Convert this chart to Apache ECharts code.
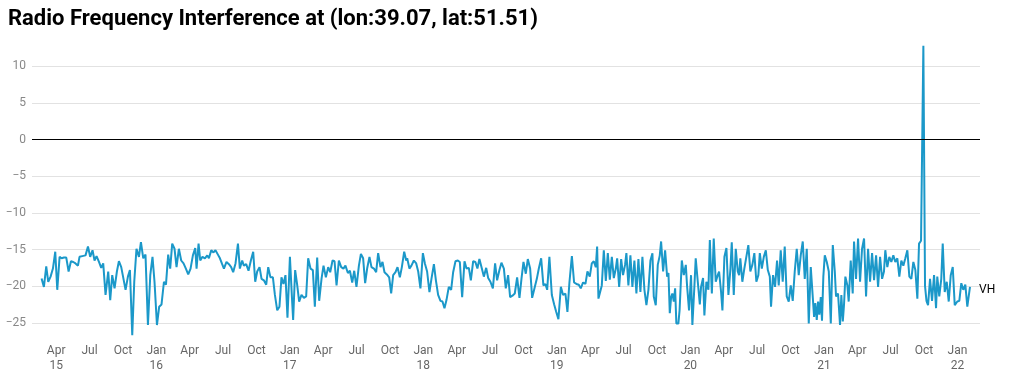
<!DOCTYPE html>
<html>
<head>
<meta charset="utf-8">
<script src="https://cdn.jsdelivr.net/npm/echarts@6/dist/echarts.min.js"></script>
<style>
html,body{margin:0;padding:0;background:#fff;}
#chart{width:1012px;height:379px;}
</style>
</head>
<body>
<div id="chart"></div>
<script>
const TITLE = 'Radio Frequency Interference at (lon:39.07, lat:51.51)';
const SERIES_NAME = 'VH';
// acquisition dates, expressed as months since 1 Jan 2015
const monthsSinceJan2015 = [
1.69,1.90,2.11,2.29,2.50,2.71,2.92,3.10,3.31,3.49,3.70,3.91,4.12,4.33,4.54,4.74,4.96,5.10,5.35,5.64,
5.86,6.06,6.27,6.45,6.63,6.85,7.05,7.23,7.44,7.68,7.86,8.04,8.25,8.46,8.64,8.85,9.00,9.24,9.45,9.63,
9.84,10.02,10.22,10.44,10.62,10.83,11.03,11.25,11.46,11.66,11.84,12.06,12.26,12.47,12.69,12.87,13.07,13.25,13.43,13.64,
13.82,14.03,14.24,14.45,14.66,14.87,15.08,15.29,15.50,15.62,15.80,15.95,16.15,16.37,16.58,16.73,16.94,17.14,17.32,17.54,
17.72,17.92,
18.08,18.31,18.53,18.73,18.91,19.12,19.34,19.51,19.72,19.87,20.08,20.29,20.50,20.71,20.89,21.07,21.28,21.46,21.67,21.88,
22.06,22.26,22.48,22.66,22.87,23.07,23.25,23.43,23.61,23.79,24.01,24.19,24.30,24.48,24.66,24.84,25.05,25.27,25.47,25.65,
25.86,26.07,26.25,26.46,26.64,26.85,27.03,27.24,27.45,27.63,27.84,28.02,28.20,28.41,28.62,28.82,29.00,29.22,29.40,29.61,
29.79,29.99,30.21,30.39,30.59,30.77,30.95,31.16,31.34,31.56,31.76,31.94,32.15,32.33,32.51,32.72,32.93,33.11,33.29,33.50,
33.68,33.89,34.07,34.28,34.46,
34.55,34.75,34.93,35.15,35.36,35.54,35.74,35.96,36.14,36.34,36.55,36.73,36.95,37.13,37.33,37.54,37.72,37.90,38.08,38.29,
38.50,38.68,38.89,39.10,39.28,39.49,39.70,39.88,40.09,40.27,40.48,40.68,40.86,41.04,41.26,41.44,41.65,41.83,42.03,42.25,
42.45,42.63,42.84,43.02,43.24,43.41,43.62,43.80,44.01,44.22,44.43,44.64,44.82,45.00,45.21,45.39,45.60,45.78,45.99,46.20,
46.38,46.59,46.79,46.97,47.13,47.33,47.55,47.76,47.94,48.14,48.36,48.56,48.77,48.95,49.13,49.35,49.55,49.76,49.97,50.15,
50.36,50.57,50.75,
50.96,51.14,51.32,51.50,51.62,51.74,51.86,52.04,52.22,52.40,52.58,52.76,52.94,53.12,53.30,53.42,53.60,53.78,53.95,54.13,
54.25,54.43,54.61,54.79,54.97,55.15,55.33,55.51,55.69,55.87,56.05,56.23,56.41,56.59,56.71,56.89,57.07,57.25,57.37,57.55,
57.73,57.91,58.03,58.15,58.27,58.38,58.51,58.63,58.74,58.92,59.03,59.23,59.41,59.59,59.70,59.88,60.06,60.18,60.36,60.48,
60.66,60.85,60.96,61.14,61.26,61.44,61.62,61.75,61.93,62.10,62.28,62.46,62.58,62.76,62.88,63.06,63.24,63.42,63.60,63.72,
63.90,64.08,64.26,64.38,64.49,64.67,64.85,65.03,65.21,65.39,65.57,65.75,65.93,66.11,66.24,66.42,66.60,66.78,66.96,67.14,
67.25,67.43,67.61,
67.79,67.94,68.12,68.30,68.48,68.66,68.84,69.02,69.20,69.38,69.56,69.74,69.92,70.10,70.28,70.46,70.64,70.82,70.94,71.12,
71.23,71.36,71.48,71.59,71.72,71.83,71.95,72.08,72.26,72.44,72.62,72.80,72.98,73.09,73.27,73.45,73.57,73.70,73.81,73.93,
74.11,74.23,74.41,74.59,74.71,74.89,75.07,75.25,75.43,75.61,75.79,75.97,76.15,76.33,76.51,76.69,76.87,77.05,77.23,77.40,
77.52,77.70,77.88,78.06,78.24,78.42,78.60,78.78,78.96,79.14,79.32,79.50,79.68,79.86,80.04,80.22,80.40,80.55,80.73,80.94,
81.09,81.22,81.36,81.54,81.72,81.90,82.08,82.19,82.37,82.55,82.68,82.86,83.04,83.22,83.40,83.58,83.76,83.99,84.17,84.35,
84.53,84.71,84.89,85.13
];
// VH values (dB)
const vhValues = [
-18.95,-20.1,-17.3,-19.4,-18.7,-17.6,-15.3,-20.5,-16,-16.2,-16.1,-16.1,-18,-16.6,-16.7,-16.9,-17.2,-16,-15.9,-15.8,
-14.6,-16,-15.1,-16.5,-15.9,-16.7,-17.5,-16.9,-21.2,-18,-21.9,-18.5,-20.3,-18,-16.6,-17.4,-17.2,-20.5,-18.7,-17.8,
-26.7,-19.4,-14.9,-16,-14,-16.2,-15.7,-25.3,-18.5,-16,-19.4,-25.3,-22.8,-22.5,-19.4,-19.8,-15.7,-17.6,-14.2,-14.9,
-17.4,-14.9,-16.5,-16.9,-17.6,-18.4,-17.6,-15.8,-14.8,-17.6,-14.2,-16.5,-16,-16.2,-15.8,-16.2,-15.1,-15.4,-15.1,-15.7,
-16.2,-17,
-17.6,-16.7,-17,-17.4,-18.1,-16.9,-14.2,-17.6,-16.5,-17.2,-17,-17.9,-16.5,-15.3,-19.4,-18,-17.4,-19,-19.2,-19.8,
-17.4,-18.8,-18.8,-21.2,-23.3,-22.8,-18.8,-19.7,-18.5,-24.3,-16,-21.5,-24.6,-17.8,-19.8,-22.1,-21.2,-21.6,-21.4,-16.2,
-17.6,-17.8,-22.8,-16.1,-22,-19,-17.2,-18.8,-17.4,-18.1,-16.5,-16.6,-19.9,-16.5,-17.4,-17.6,-17.2,-18.2,-17.9,-19.5,
-17.9,-20.1,-17.2,-15.6,-16.2,-19.6,-17.6,-16,-17.4,-17.6,-18.1,-15.5,-17.4,-16.7,-18.1,-18.4,-18.8,-21,-18.5,-18.1,
-17.4,-18.8,-17.4,-15.3,-16.5,
-16.2,-17.6,-17.2,-16.5,-16.9,-18,-20.3,-15.5,-16.9,-18,-20.8,-19,-17,-19.2,-21.2,-22,-22.1,-23,-21.9,-20.1,
-20.5,-18.1,-16.6,-16.5,-16.7,-21.5,-16.6,-17.6,-17.5,-19.2,-16.6,-16.7,-17.6,-16.3,-17.6,-18.7,-17.5,-18.9,-19.4,-20.3,
-16.9,-19.2,-17.8,-16.8,-17.6,-20.3,-18.5,-21.5,-21.3,-21,-18.8,-21.6,-19,-16.7,-18.3,-16.3,-17.6,-21.6,-20.3,-19,
-17.6,-16.2,-19.9,-19.7,-20.5,-16,-21.2,-22.5,-23.5,-24.5,-20.1,-21.2,-21,-23.5,-19.5,-15.9,-19.5,-19.7,-19.8,-20.3,
-19.5,-19.7,-18,
-18.7,-16.9,-16.6,-17.4,-14.6,-21.7,-21.9,-19.9,-15.1,-19.3,-15.5,-19.1,-16,-18.9,-17.6,-16.2,-20.1,-16.3,-18.5,-17.1,
-15.5,-19.9,-15.8,-20.1,-16.5,-21,-16.3,-20.8,-16,-20.5,-22.6,-20.5,-16.5,-15.5,-21.4,-22.6,-17.1,-15.8,-13.9,-18,
-15.1,-18.7,-18.2,-23.7,-21.5,-21,-22.1,-20.3,-25.1,-25.1,-23.3,-16.5,-18.5,-17.1,-19.9,-23.3,-18.5,-25.3,-20.1,-16.2,
-19.3,-22.5,-20.1,-18.9,-24,-19.4,-20.5,-13.7,-21,-13.5,-19.4,-18.5,-18,-20.8,-23.3,-16,-14.8,-21.2,-17.6,-14,
-21.2,-14.9,-18,-18.5,-16.2,-19.4,-17.6,-16,-14.4,-18,-17.1,-15.5,-19.4,-18.5,-15.5,-17.6,-16,-15.1,-17.8,-18.7,
-22.8,-18.5,-20.1,
-16.5,-19.9,-15.1,-19.4,-14.6,-21.4,-22.1,-19.9,-22,-18,-14.9,-18.5,-15.8,-13.9,-19,-14.9,-25.1,-17.4,-17.4,-24.2,
-22.3,-24.6,-22.1,-23.9,-21.5,-24.7,-18.7,-15.8,-16.7,-18,-25.1,-14.4,-18,-21.4,-21,-25.3,-21.2,-24.8,-22.5,-18.7,
-19.9,-22.1,-16.5,-21,-13.9,-19,-13.5,-19.4,-14.9,-13.5,-21.4,-14.9,-19.4,-15.5,-19.2,-15.8,-20.1,-16,-19,-18,
-15.1,-17.4,-16,-16.7,-15.8,-16.7,-16.2,-18.7,-16.5,-17.2,-16.2,-15.1,-18.7,-19,-16.7,-17.8,-21.7,-14.2,-13.8,12.8,
-20,-22,-22.6,-19,-22,-18.5,-23,-18.7,-21.4,-19,-14.2,-20.8,-19.4,-22.1,-18.5,-17.4,-22.6,-22.1,-22,-19.6,
-20.5,-19.8,-22.8,-20.1
];
// quarterly tick positions (months since 1 Jan 2015) and y tick values
const xTickMonths = [3,6,9,12,15,18,21,24,27,30,33,36,39,42,45,48,51,54,57,60,63,66,69,72,75,78,81,84];
const monthNames = ['Jan','Feb','Mar','Apr','May','Jun','Jul','Aug','Sep','Oct','Nov','Dec'];
const yTicks = [-25,-20,-15,-10,-5,0,5,10];

const points = monthsSinceJan2015.map((m, i) => [m, vhValues[i]]);

const chart = echarts.init(document.getElementById('chart'), null, {renderer: 'canvas'});
const FONT = 'Roboto';
chart.setOption({
  animation: false,
  backgroundColor: '#fff',
  title: {
    text: TITLE, left: 3, top: 3,
    textStyle: {fontFamily: FONT, fontWeight: 'bold', fontSize: 22, color: '#000'}
  },
  grid: {left: 32, right: 32, top: 45, bottom: 43, containLabel: false},
  xAxis: {
    type: 'value', min: 0.83, max: 86.03,
    axisLine: {show: false}, axisTick: {show: false, customValues: xTickMonths}, splitLine: {show: false},
    axisLabel: {
      customValues: xTickMonths,
      fontFamily: FONT, fontSize: 12, color: '#666', lineHeight: 15, margin: 7,
      formatter: function (v) {
        const mi = Math.round(v);
        const mon = monthNames[mi % 12];
        if (mi % 12 === 0 || mi === xTickMonths[0]) {
          return mon + '\n' + String(15 + Math.floor(mi / 12));
        }
        return mon;
      }
    }
  },
  yAxis: {
    type: 'value', min: -26.8, max: 12.9,
    axisLine: {show: false}, axisTick: {show: false, customValues: yTicks},
    splitLine: {show: true, lineStyle: {color: '#e2e2e2', width: 1}},
    axisLabel: {
      customValues: yTicks, fontFamily: FONT, fontSize: 12, color: '#888', margin: 6,
      formatter: function (v) { return v < 0 ? '\u2212' + Math.abs(v) : String(v); }
    }
  },
  series: [{
    name: SERIES_NAME, type: 'line', data: points,
    showSymbol: false, symbol: 'none',
    lineStyle: {width: 2, color: '#1b98c9'},
    itemStyle: {color: '#1b98c9'},
    endLabel: {show: true, formatter: SERIES_NAME, fontFamily: FONT, fontSize: 12, color: '#000', distance: 9, offset: [0, 3]},
    markLine: {
      silent: true, symbol: 'none', animation: false,
      label: {show: false},
      lineStyle: {color: '#000', width: 1, type: 'solid'},
      emphasis: {disabled: true},
      data: [{yAxis: 0}]
    },
    z: 3
  }]
});
</script>
</body>
</html>
